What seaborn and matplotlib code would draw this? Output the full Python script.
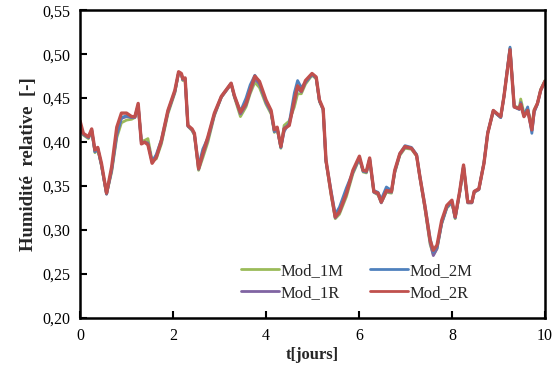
import matplotlib
matplotlib.use("Agg")
import matplotlib.pyplot as plt
import seaborn as sns
import pandas as pd
from matplotlib.ticker import FuncFormatter, MultipleLocator

t_jours = [0, 0.07, 0.18, 0.25, 0.32, 0.38, 0.46, 0.57, 0.68, 0.79,
           0.89, 1.0, 1.11, 1.18, 1.25, 1.32, 1.39, 1.46, 1.55, 1.64,
           1.75, 1.89, 2.04, 2.12, 2.18, 2.21, 2.26, 2.32, 2.41, 2.46,
           2.55, 2.64, 2.75, 2.89, 3.04, 3.25, 3.32, 3.45, 3.57, 3.66,
           3.76, 3.86, 4.0, 4.11, 4.18, 4.24, 4.32, 4.39, 4.5, 4.61,
           4.68, 4.76, 4.85, 4.99, 5.08, 5.15, 5.23, 5.29, 5.40, 5.49,
           5.58, 5.73, 5.87, 6.01, 6.09, 6.16, 6.23, 6.32, 6.41, 6.48,
           6.59, 6.70, 6.77, 6.88, 6.99, 7.13, 7.24, 7.31, 7.42, 7.53,
           7.60, 7.68, 7.78, 7.89, 8.0, 8.07, 8.17, 8.25, 8.34, 8.43,
           8.48, 8.58, 8.69, 8.77, 8.89, 9.05, 9.12, 9.25, 9.34, 9.45,
           9.48, 9.55, 9.63, 9.72, 9.77, 9.84, 9.91, 10.0]

mod_1M = [0.418, 0.408, 0.404, 0.413, 0.388, 0.392, 0.373, 0.341, 0.366, 0.405,
          0.422, 0.425, 0.426, 0.428, 0.441, 0.401, 0.402, 0.404, 0.379, 0.381,
          0.398, 0.432, 0.456, 0.479, 0.477, 0.470, 0.472, 0.418, 0.413, 0.408,
          0.368, 0.382, 0.400, 0.430, 0.451, 0.466, 0.451, 0.429, 0.440, 0.455,
          0.468, 0.462, 0.443, 0.432, 0.411, 0.416, 0.393, 0.419, 0.424, 0.440,
          0.455, 0.455, 0.466, 0.476, 0.472, 0.446, 0.437, 0.378, 0.340, 0.313,
          0.318, 0.338, 0.364, 0.381, 0.366, 0.365, 0.380, 0.343, 0.340, 0.331,
          0.343, 0.342, 0.365, 0.385, 0.393, 0.392, 0.384, 0.360, 0.324, 0.284,
          0.272, 0.279, 0.307, 0.325, 0.331, 0.313, 0.343, 0.372, 0.331, 0.331,
          0.343, 0.346, 0.377, 0.410, 0.435, 0.428, 0.452, 0.507, 0.441, 0.439,
          0.449, 0.433, 0.438, 0.418, 0.437, 0.444, 0.460, 0.470]

mod_2M = [0.421, 0.409, 0.405, 0.414, 0.389, 0.393, 0.374, 0.341, 0.369, 0.410,
          0.428, 0.430, 0.428, 0.429, 0.442, 0.399, 0.400, 0.398, 0.378, 0.386,
          0.403, 0.435, 0.458, 0.479, 0.477, 0.471, 0.472, 0.419, 0.414, 0.409,
          0.373, 0.392, 0.405, 0.432, 0.452, 0.467, 0.452, 0.435, 0.450, 0.465,
          0.476, 0.467, 0.446, 0.434, 0.412, 0.416, 0.394, 0.412, 0.422, 0.456,
          0.470, 0.462, 0.468, 0.477, 0.473, 0.447, 0.437, 0.379, 0.345, 0.318,
          0.326, 0.348, 0.366, 0.382, 0.367, 0.366, 0.381, 0.345, 0.343, 0.335,
          0.349, 0.345, 0.367, 0.387, 0.396, 0.394, 0.386, 0.362, 0.328, 0.291,
          0.275, 0.281, 0.308, 0.326, 0.332, 0.314, 0.344, 0.373, 0.332, 0.332,
          0.344, 0.347, 0.377, 0.411, 0.436, 0.428, 0.452, 0.508, 0.440, 0.437,
          0.444, 0.430, 0.440, 0.410, 0.434, 0.443, 0.459, 0.469]

mod_1R = [0.420, 0.409, 0.405, 0.414, 0.389, 0.393, 0.374, 0.341, 0.368, 0.408,
          0.427, 0.429, 0.428, 0.428, 0.442, 0.399, 0.400, 0.399, 0.377, 0.383,
          0.400, 0.434, 0.457, 0.479, 0.477, 0.471, 0.472, 0.418, 0.414, 0.409,
          0.369, 0.385, 0.403, 0.431, 0.451, 0.466, 0.452, 0.432, 0.442, 0.457,
          0.472, 0.466, 0.445, 0.434, 0.412, 0.416, 0.394, 0.416, 0.420, 0.445,
          0.461, 0.457, 0.468, 0.477, 0.473, 0.447, 0.437, 0.378, 0.342, 0.314,
          0.320, 0.341, 0.366, 0.382, 0.367, 0.366, 0.381, 0.343, 0.341, 0.331,
          0.344, 0.343, 0.366, 0.386, 0.394, 0.393, 0.385, 0.360, 0.325, 0.286,
          0.271, 0.279, 0.308, 0.326, 0.332, 0.314, 0.344, 0.373, 0.331, 0.331,
          0.343, 0.346, 0.376, 0.410, 0.435, 0.428, 0.452, 0.506, 0.440, 0.438,
          0.445, 0.430, 0.437, 0.413, 0.435, 0.444, 0.459, 0.469]

mod_2R = [0.424, 0.410, 0.406, 0.415, 0.391, 0.394, 0.376, 0.342, 0.372, 0.417,
          0.433, 0.433, 0.429, 0.429, 0.444, 0.398, 0.400, 0.397, 0.376, 0.383,
          0.402, 0.436, 0.459, 0.480, 0.478, 0.472, 0.473, 0.419, 0.415, 0.410,
          0.370, 0.387, 0.406, 0.433, 0.452, 0.467, 0.453, 0.434, 0.444, 0.459,
          0.475, 0.469, 0.448, 0.436, 0.414, 0.417, 0.395, 0.415, 0.419, 0.448,
          0.464, 0.458, 0.470, 0.478, 0.474, 0.448, 0.438, 0.380, 0.342, 0.315,
          0.321, 0.342, 0.368, 0.384, 0.368, 0.367, 0.382, 0.344, 0.342, 0.332,
          0.345, 0.344, 0.368, 0.387, 0.395, 0.393, 0.385, 0.361, 0.327, 0.289,
          0.277, 0.283, 0.311, 0.328, 0.334, 0.315, 0.345, 0.374, 0.332, 0.332,
          0.344, 0.347, 0.376, 0.410, 0.436, 0.429, 0.452, 0.505, 0.440, 0.438,
          0.443, 0.429, 0.436, 0.414, 0.436, 0.444, 0.459, 0.469]

series_names = ["Mod_1M", "Mod_1R", "Mod_2M", "Mod_2R"]
series_values = [mod_1M, mod_1R, mod_2M, mod_2R]
colors = {"Mod_1M": "#9BBB59", "Mod_1R": "#8064A2",
          "Mod_2M": "#4F81BD", "Mod_2R": "#C0504D"}

frames = []
for name, vals in zip(series_names, series_values):
    frames.append(pd.DataFrame({"t": t_jours, "h": vals, "Modèle": name}))
df = pd.concat(frames, ignore_index=True)

sns.set_theme(style="white")
plt.rcParams["font.family"] = ["Liberation Serif", "DejaVu Serif"]

fig = plt.figure(figsize=(5.56, 3.76), dpi=100)
ax = fig.add_axes([0.144, 0.154, 0.836, 0.819])

sns.lineplot(data=df, x="t", y="h", hue="Modèle", hue_order=series_names,
             palette=colors, linewidth=2.0, ax=ax, sort=False,
             estimator=None)
for line in ax.lines:
    line.set_solid_joinstyle("round")
    line.set_solid_capstyle("round")
    if line.get_color().lower() == "#c0504d":
        line.set_linewidth(2.4)

ax.set_xlim(0, 10)
ax.set_ylim(0.20, 0.55)
ax.xaxis.set_major_locator(MultipleLocator(2))
ax.yaxis.set_major_locator(MultipleLocator(0.05))
ax.yaxis.set_major_formatter(FuncFormatter(lambda v, p: f"{v:.2f}".replace(".", ",")))
ax.tick_params(axis="both", direction="in", length=5, width=1.5,
               labelsize=11.5, colors="black", bottom=True, left=True,
               top=False, right=False, pad=7)
for s in ax.spines.values():
    s.set_linewidth(1.8)
    s.set_color("black")

ax.set_xlabel("t[jours]", fontsize=12, fontweight="bold", labelpad=2)
ax.set_ylabel("Humidité  relative  [-]", fontsize=13.5, fontweight="bold", labelpad=4)

handles, labels = ax.get_legend_handles_labels()
leg = ax.legend(handles, labels, ncol=2, loc="lower left",
                bbox_to_anchor=(0.332, 0.035), frameon=False, fontsize=12,
                handlelength=2.3, handletextpad=0.05, columnspacing=1.6,
                labelspacing=0.35, borderaxespad=0)
for h in leg.get_lines():
    h.set_linewidth(2.0)

fig.savefig("out.png", dpi=100)
